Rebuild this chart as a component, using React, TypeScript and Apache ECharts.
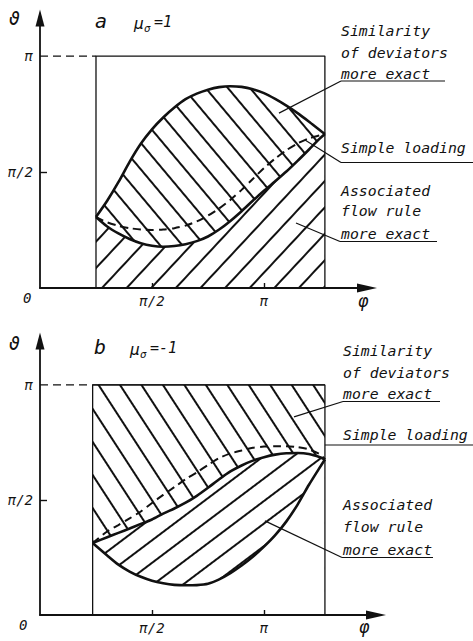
import React, { useEffect, useRef } from 'react';
import * as echarts from 'echarts';

// phi and theta are expressed in units of pi
const phiA = [0.25, 0.30, 0.35, 0.40, 0.45, 0.50, 0.55, 0.60, 0.65, 0.70, 0.75, 0.80, 0.85, 0.90, 0.95, 1.00, 1.05, 1.10, 1.15, 1.20, 1.25, 1.272];
const aUpper = [0.306, 0.376, 0.456, 0.544, 0.622, 0.684, 0.735, 0.778, 0.814, 0.838, 0.855, 0.866, 0.870, 0.867, 0.857, 0.840, 0.815, 0.786, 0.754, 0.718, 0.680, 0.664];
const aLower = [0.306, 0.265, 0.235, 0.211, 0.193, 0.182, 0.178, 0.181, 0.189, 0.202, 0.222, 0.252, 0.289, 0.331, 0.376, 0.419, 0.460, 0.502, 0.548, 0.596, 0.645, 0.664];
const aDashed = [0.306, 0.283, 0.268, 0.258, 0.252, 0.250, 0.252, 0.258, 0.269, 0.287, 0.312, 0.343, 0.380, 0.423, 0.470, 0.517, 0.558, 0.594, 0.623, 0.645, 0.658, 0.664];

const phiB = [0.235, 0.30, 0.35, 0.40, 0.45, 0.50, 0.55, 0.60, 0.65, 0.70, 0.75, 0.80, 0.85, 0.90, 0.95, 1.00, 1.05, 1.10, 1.15, 1.20, 1.25, 1.272];
const bUpper = [0.313, 0.338, 0.357, 0.376, 0.396, 0.415, 0.441, 0.463, 0.488, 0.518, 0.553, 0.590, 0.624, 0.650, 0.671, 0.686, 0.697, 0.703, 0.704, 0.700, 0.686, 0.676];
const bLower = [0.313, 0.259, 0.219, 0.189, 0.166, 0.149, 0.138, 0.131, 0.129, 0.130, 0.136, 0.155, 0.182, 0.215, 0.253, 0.297, 0.347, 0.407, 0.480, 0.565, 0.643, 0.676];
const bDashed = [0.313, 0.363, 0.391, 0.420, 0.450, 0.487, 0.522, 0.556, 0.590, 0.620, 0.652, 0.682, 0.702, 0.715, 0.727, 0.732, 0.734, 0.734, 0.730, 0.720, 0.698, 0.676];

const boxPhiA = [0.25, 1.272];
const boxPhiB = [0.235, 1.272];
const boxTop = 1;

const tickValues = [0.5, 1];
const tickLabels = ['π/2', 'π'];

const labelLinesA = ['Similarity', 'of deviators', 'more exact', 'Simple loading', 'Associated', 'flow rule', 'more exact'];
const labelLinesB = ['Similarity', 'of deviators', 'more exact', 'Simple loading', 'Associated', 'flow rule', 'more exact'];
const anchorsA = [[1.067, 0.754], [1.183, 0.638], [1.143, 0.280]];
const anchorsB = [[1.134, 0.861], [1.272, 0.739], [1.004, 0.409]];

const MONO = '"DejaVu Sans Mono", monospace';
const INK = '#111';

const pairs = (xs: number[], ys: number[]) => xs.map((x, i) => [x, ys[i]]);

const hatch = (deg: number, gap: number) => ({
  symbol: 'rect',
  symbolSize: 1,
  color: INK,
  dashArrayX: [1, 0],
  dashArrayY: [1.3, gap],
  rotation: (deg * Math.PI) / 180,
});

const fmt = (v: number) => {
  for (let i = 0; i < tickValues.length; i++) {
    if (Math.abs(v - tickValues[i]) < 1e-6) return tickLabels[i];
  }
  return '';
};

function axesFor(grid: number, xmax: number, ymax: number) {
  const labelStyle = { fontFamily: MONO, fontStyle: 'italic', fontSize: 14, color: INK };
  const x = {
    gridIndex: grid, type: 'value', min: 0, max: xmax, z: 6,
    axisLine: { show: true, symbol: ['none', 'triangle'], symbolSize: [9, 20], lineStyle: { color: INK, width: 1.8 } },
    axisTick: { show: true, inside: true, length: 5, customValues: tickValues, lineStyle: { color: INK, width: 1.4 } },
    axisLabel: { customValues: tickValues, formatter: fmt, margin: 6, ...labelStyle },
    splitLine: { show: false },
  };
  const y = {
    gridIndex: grid, type: 'value', min: 0, max: ymax, z: 6,
    axisLine: { show: true, symbol: ['none', 'triangle'], symbolSize: [9, 17], lineStyle: { color: INK, width: 1.8 } },
    axisTick: { show: true, inside: true, length: 7, customValues: [0.5], lineStyle: { color: INK, width: 1.4 } },
    axisLabel: { customValues: tickValues, formatter: fmt, margin: 7, ...labelStyle },
    splitLine: { show: false },
  };
  return { x, y };
}

function line(grid: number, data: number[][], width: number, extra: any = {}) {
  const { lineStyle, ...rest } = extra;
  return {
    type: 'line', xAxisIndex: grid, yAxisIndex: grid, data, symbol: 'none', silent: true,
    lineStyle: { color: INK, width, ...(lineStyle || {}) },
    ...rest,
  };
}

export default function App() {
  const ref = useRef<HTMLDivElement>(null);
  useEffect(() => {
    const chart = echarts.init(ref.current!, null, { renderer: 'svg' });
    const A = axesFor(0, 1.46, 1.164);
    const B = axesFor(1, 1.5, 1.191);
    const whiteArea = { color: '#fff', opacity: 1 };
    const dashed = { type: [8, 5], width: 2 };
    const option: any = {
      animation: false,
      backgroundColor: '#fff',
      grid: [
        { left: 40, top: 18, width: 327, height: 270 },
        { left: 40, top: 341, width: 336, height: 274 },
      ],
      xAxis: [A.x, B.x],
      yAxis: [A.y, B.y],
      series: [
        // panel a
        line(0, pairs(phiA, aUpper), 2.6, { smooth: 0.25, areaStyle: whiteArea, itemStyle: { decal: hatch(50, 15) } }),
        line(0, pairs(phiA, aLower), 2.6, { smooth: 0.25, areaStyle: whiteArea, itemStyle: { decal: hatch(-47, 16) } }),
        line(0, pairs(phiA, aDashed), 2, { smooth: 0.25, lineStyle: dashed }),
        line(0, [[boxPhiA[0], 0], [boxPhiA[0], boxTop], [boxPhiA[1], boxTop], [boxPhiA[1], 0]], 1.3),
        line(0, [[0, boxTop], [boxPhiA[0], boxTop]], 1.3, { lineStyle: { type: [8, 5] } }),
        // panel b
        line(1, [[boxPhiB[0], boxTop], [boxPhiB[1], boxTop]], 1.3, { areaStyle: whiteArea, itemStyle: { decal: hatch(57, 16) } }),
        line(1, pairs(phiB, bUpper), 2.6, { smooth: 0.25, areaStyle: whiteArea, itemStyle: { decal: hatch(-37, 16) } }),
        line(1, pairs(phiB, bLower), 2.6, { smooth: 0.25, areaStyle: whiteArea }),
        line(1, pairs(phiB, bDashed), 2, { smooth: 0.25, lineStyle: dashed }),
        line(1, [[boxPhiB[0], 0], [boxPhiB[0], boxTop], [boxPhiB[1], boxTop], [boxPhiB[1], 0]], 1.3),
        line(1, [[0, boxTop], [boxPhiB[0], boxTop]], 1.3, { lineStyle: { type: [8, 5] } }),
      ],
    };
    chart.setOption(option);

    const px = (g: number, p: number[]) => chart.convertToPixel({ gridIndex: g } as any, p) as number[];
    const T = (x: number, y: number, text: string, size = 14.8) => ({
      type: 'text', x, y, silent: true, z: 10,
      style: { text, fontFamily: MONO, fontStyle: 'italic', fontSize: size, fill: INK, verticalAlign: 'middle', align: 'left' },
    });
    const L = (x1: number, y1: number, x2: number, y2: number, w = 1.2) => ({
      type: 'line', silent: true, z: 10, shape: { x1, y1, x2, y2 }, style: { stroke: INK, lineWidth: w },
    });

    const a1 = px(0, anchorsA[0]), a2 = px(0, anchorsA[1]), a3 = px(0, anchorsA[2]);
    const b1 = px(1, anchorsB[0]), b2 = px(1, anchorsB[1]), b3 = px(1, anchorsB[2]);

    const graphic: any[] = [
      // panel a headers
      T(95, 21, 'a', 20), T(134, 23, 'μ', 16), T(144, 28, 'σ', 11), T(154, 22, '=1', 15),
      T(9, 18, 'ϑ', 18), T(358, 301, 'φ', 17), T(23, 298, '0', 14),
      // panel b headers
      T(94, 347, 'b', 20), T(130, 349, 'μ', 16), T(140, 354, 'σ', 11), T(150, 348, '=-1', 15),
      T(9, 343, 'ϑ', 18), T(359, 627, 'φ', 17), T(19, 625, '0', 14),
      // panel a labels
      T(341, 30, labelLinesA[0]), T(341, 52.5, labelLinesA[1]), T(341, 73, labelLinesA[2]),
      L(341, 81, 445, 81), L(341, 81, a1[0], a1[1]),
      T(341, 147.5, labelLinesA[3]),
      L(341, 162.5, 473, 162.5), L(341, 162.5, a2[0], a2[1]),
      T(341, 190, labelLinesA[4]), T(341, 210.5, labelLinesA[5]), T(341, 233, labelLinesA[6]),
      L(340, 241.5, 437, 241.5), L(340, 241.5, a3[0], a3[1]),
      // panel b labels
      T(343, 350, labelLinesB[0]), T(343, 372, labelLinesB[1]), T(343, 393, labelLinesB[2]),
      L(343, 401.5, 440, 401.5), L(343, 401.5, b1[0], b1[1]),
      T(343, 434, labelLinesB[3]),
      L(b2[0], b2[1], 473, b2[1]),
      T(343, 504, labelLinesB[4]), T(343, 526, labelLinesB[5]), T(343, 549, labelLinesB[6]),
      L(342, 557.5, 433, 557.5), L(342, 557.5, b3[0], b3[1]),
    ];
    chart.setOption({ graphic });
    return () => chart.dispose();
  }, []);
  return <div ref={ref} style={{ position: 'absolute', left: 0, top: 0, width: 473, height: 641, background: '#fff' }} />;
}
